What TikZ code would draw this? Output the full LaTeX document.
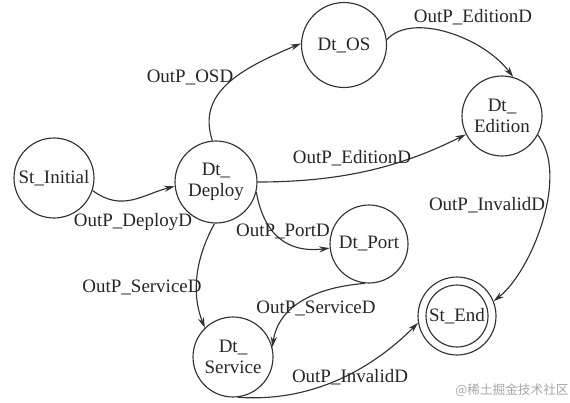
\documentclass[tikz,border=0pt]{standalone}
\usepackage{fontspec}
\setmainfont{Liberation Serif}
\newfontfamily\cjk{Noto Sans CJK SC}
\usepackage{tikz}
\usetikzlibrary{arrows.meta}

\begin{document}
\begin{tikzpicture}[x=0.02cm, y=-0.02cm,
    stnode/.style={circle, draw=black!80, line width=0.65pt, minimum size=1.6cm,
        inner sep=0pt, align=center, text=black!85, font=\fontsize{10.8}{12}\selectfont},
    lbl/.style={inner sep=1pt, text=black!85, font=\fontsize{10.8}{12}\selectfont},
    edge/.style={draw=black!80, line width=0.65pt, -{Stealth[length=6pt, width=3.5pt]}}]
            \useasboundingbox (0,0) rectangle (570,402);
            % states
            \node[stnode] (initial) at (54,178) {St\_Initial};
            \node[stnode, minimum size=1.64cm] (deploy) at (216,182) {Dt\_\\Deploy};
            \node[stnode, minimum size=1.7cm] (os) at (344,45) {Dt\_OS};
            \node[stnode] (edition) at (502,116) {Dt\_\\Edition};
            \node[stnode, minimum size=1.56cm] (port) at (369,244) {Dt\_Port};
            \node[stnode] (service) at (233,357) {Dt\_\\Service};
            \node[stnode, minimum size=1.56cm] (end) at (457,316) {St\_End};
            \draw[black!80, line width=0.65pt] (end.center) circle (0.62cm);
            % transitions
            \draw[edge] (initial.-18) .. controls +(30,22) and +(-32,8) .. (deploy.186);
            \draw[edge] (deploy.95) .. controls +(-16,-48) and +(-60,25) .. (os.178);
            \draw[edge] (os.7) .. controls +(25,-28) and +(-30,-40) .. (edition.74);
            \draw[edge] (deploy.0) .. controls +(90,0) and +(-60,30) .. (edition.207);
            \draw[edge] (deploy.-14) .. controls +(8,45) and +(-40,5) .. (port.186);
            \draw[edge] (deploy.-92) .. controls +(-22,40) and +(-12,-30) .. (service.134);
            \draw[edge] (port.-96) .. controls +(-60,5) and +(5,-35) .. (service.14);
            \draw[edge] (service.-83) .. controls +(70,5) and +(-50,50) .. (end.190);
            \draw[edge] (edition.-28) .. controls +(32,40) and +(38,-30) .. (end.22);
            % labels
            \node[lbl] (l-deploy) at (133,222) {OutP\_DeployD};
            \node[lbl] (l-os) at (190,77) {OutP\_OSD};
            \node[lbl] (l-ed-top) at (473,17) {OutP\_EditionD};
            \node[lbl] (l-ed-mid) at (352,158) {OutP\_EditionD};
            \node[lbl] (l-port) at (283,231) {OutP\_PortD};
            \node[lbl] (l-serv-left) at (142,287) {OutP\_ServiceD};
            \node[lbl] (l-serv-mid) at (316,308) {OutP\_ServiceD};
            \node[lbl] (l-inv-bot) at (350,377) {OutP\_InvalidD};
            \node[lbl] (l-inv-right) at (487,205) {OutP\_InvalidD};
            \node[text=black!35, font=\cjk\fontsize{7.2}{8}\selectfont] (mark) at (512,390) {@稀土掘金技术社区};
        \end{tikzpicture}
\end{document}
